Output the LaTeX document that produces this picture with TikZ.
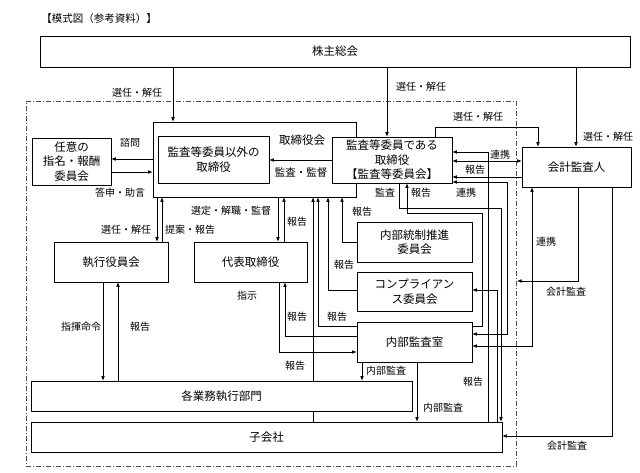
\documentclass[tikz,border=0pt]{standalone}
\usepackage{fontspec}
\setmainfont{Noto Sans CJK JP}
\usetikzlibrary{arrows.meta}
\newcommand{\bxfont}{\fontsize{11.5}{14.5}\selectfont}
\newcommand{\lbfont}{\fontsize{10}{11}\selectfont}
\begin{document}
\begin{tikzpicture}[x=1pt,y=-1pt,
  box/.style={draw=black, line width=0.6pt, fill=white, inner sep=0pt, font=\bxfont, align=center},
  lab/.style={font=\lbfont, inner sep=0pt},
  ln/.style={line width=0.6pt, draw=black},
  arr/.style={ln, -{Latex[length=4.5pt,width=3.6pt]}},
  darr/.style={ln, {Latex[length=4.5pt,width=3.6pt]}-{Latex[length=4.5pt,width=3.6pt]}},
  frame/.style={draw=black!70, line width=0.6pt, dash pattern=on 5pt off 2pt on 1pt off 2pt, inner sep=0pt}
]
\fill[white] (0,0) rectangle (640,473);
\useasboundingbox (0,0) rectangle (640,473);

% frame
\node[frame, minimum width=490pt, minimum height=365pt] (fr) at (271,283.5) {};

% boxes
\node[box, minimum width=590pt, minimum height=31pt] (kabu) at (335,51.5) {株主総会};
\node[box, minimum width=203pt, minimum height=75pt] (toriOuter) at (254.5,159.5) {};
\node[box, minimum width=111pt, minimum height=47pt] (gaiBox) at (213.5,159.5) {監査等委員以外の\\取締役};
\node[box, minimum width=120pt, minimum height=46pt] (kansa) at (392,160) {監査等委員である\\取締役\\【監査等委員会】};
\node[box, minimum width=79pt, minimum height=47pt] (nini) at (71.5,161.5) {任意の\\指名・報酬\\委員会};
\node[box, minimum width=114pt, minimum height=40pt] (shikkou) at (111,262) {執行役員会};
\node[box, minimum width=113pt, minimum height=40pt] (daihyo) at (250.5,262) {代表取締役};
\node[box, minimum width=115pt, minimum height=40pt] (naitou) at (414.5,242) {内部統制推進\\委員会};
\node[box, minimum width=115pt, minimum height=39pt] (comp) at (414.5,291.5) {コンプライアン\\ス委員会};
\node[box, minimum width=115pt, minimum height=40pt] (naibu) at (414.5,342) {内部監査室};
\node[box, minimum width=381pt, minimum height=30pt] (gyomu) at (221.5,396) {各業務執行部門};
\node[box, minimum width=471pt, minimum height=30pt] (ko) at (266.5,437) {子会社};
\node[box, minimum width=109pt, minimum height=40pt] (kaikei) at (576.5,167) {会計監査人};
\coordinate (bd) at (517,281);

% connectors
\draw[arr] (kabu.south -| 173,0) -- (toriOuter.north -| 173,0);
\draw[arr] (kabu.south -| 387,0) -- (kansa.north -| 387,0);
\draw[arr] (kabu.south -| 576,0) -- (kaikei.north -| 576,0);
\draw[arr] (kansa.north -| 435,0) -- (435,127) -- (538,127) -- (kaikei.north -| 538,0);
\draw[arr] (toriOuter.west |- 0,159) -- (nini.east |- 0,159);
\draw[arr] (nini.east |- 0,172) -- (toriOuter.west |- 0,172);
\draw[arr] (kansa.west) -- (gaiBox.east |- kansa.west);
\draw[arr] (toriOuter.south -| 157,0) -- (shikkou.north -| 157,0);
\draw[arr] (shikkou.north -| 162,0) -- (toriOuter.south -| 162,0);
\draw[arr] (toriOuter.south -| 278,0) -- (daihyo.north -| 278,0);
\draw[arr] (daihyo.north -| 284,0) -- (toriOuter.south -| 284,0);
\draw[arr] (naitou.west) -| (toriOuter.south -| 342,0);
\draw[arr] (comp.west |- 0,290) -| (toriOuter.south -| 328,0);
\draw[arr] (naibu.west |- 0,326) -| (toriOuter.south -| 318,0);
\draw[ln] (ko.north -| 313,0) -- (gyomu.south -| 313,0);
\draw[arr] (gyomu.north -| 313,0) -- (toriOuter.south -| 313,0);
\draw[arr] (naibu.west |- 0,336) -| (daihyo.south -| 285,0);
\draw[arr] (daihyo.south -| 279,0) |- (naibu.west |- 0,352);
\draw[arr] (shikkou.south -| 103,0) -- (gyomu.north -| 103,0);
\draw[arr] (gyomu.north -| 118,0) -- (shikkou.south -| 118,0);
\draw[arr] (naibu.south -| 362,0) -- (gyomu.north -| 362,0);
\draw[arr] (naibu.south -| 417,0) -- (ko.north -| 417,0);
\draw[arr] (kansa.south -| 399,0) -- (399,208) -| (ko.north -| 501,0);
\draw[arr] (naibu.east |- 0,326) -| (482,213) -| (kansa.south -| 407,0);
\draw[darr] (kansa.east |- 0,182) -| (507,334) -- (naibu.east |- 0,334);
\draw[arr] (ko.north -| 488,0) |- (kansa.east |- 0,152);
\draw[arr] (ko.north -| 497,0) |- (comp.east |- 0,290);
\draw[darr] (kansa.east |- 0,161) -- (kaikei.west |- 0,161);
\draw[arr] (kaikei.west |- 0,177) -- (kansa.east |- 0,177);
\draw[darr] (naibu.east |- 0,346) -| (kaikei.south -| 532,0);
\draw[arr] (kaikei.south -| 578,0) |- (bd);
\draw[arr] (kaikei.south -| 612,0) |- (ko.east |- 0,436);

% labels
\node[lab, font=\fontsize{10.5}{12}\selectfont] (title) at (99,19) {【模式図（参考資料）】};
\node[lab] (l1) at (137,93) {選任・解任};
\node[lab] (l2) at (421,87) {選任・解任};
\node[lab] (l3) at (608,137) {選任・解任};
\node[lab] (l4) at (478,117) {選任・解任};
\node[lab] (l5) at (130,143) {諮問};
\node[lab] (l6) at (120,193) {答申・助言};
\node[lab, font=\bxfont] (l7) at (302,140) {取締役会};
\node[lab, font=\fontsize{10.5}{12}\selectfont] (l8) at (301,173) {監査・監督};
\node[lab] (l9) at (126,230) {選任・解任};
\node[lab] (l10) at (190,230) {提案・報告};
\node[lab] (l11) at (231,211) {選定・解職・監督};
\node[lab] (l12) at (297,222) {報告};
\node[lab] (l13) at (362,212) {報告};
\node[lab] (l14) at (344,265) {報告};
\node[lab] (l15) at (337,317) {報告};
\node[lab] (l16) at (297,317) {報告};
\node[lab] (l17) at (295,366) {報告};
\node[lab] (l18) at (247,296) {指示};
\node[lab] (l19) at (81,327) {指揮命令};
\node[lab] (l20) at (140,327) {報告};
\node[lab] (l21) at (386,371) {内部監査};
\node[lab] (l22) at (443,408) {内部監査};
\node[lab] (l23) at (385,193) {監査};
\node[lab] (l24) at (421,193) {報告};
\node[lab] (l25) at (466,193) {連携};
\node[lab] (l26) at (473,382) {報告};
\node[lab] (l27) at (500,155) {連携};
\node[lab] (l28) at (475,170) {報告};
\node[lab] (l29) at (546,242) {連携};
\node[lab] (l30) at (566,292) {会計監査};
\node[lab] (l31) at (567,446) {会計監査};
\end{tikzpicture}
\end{document}
